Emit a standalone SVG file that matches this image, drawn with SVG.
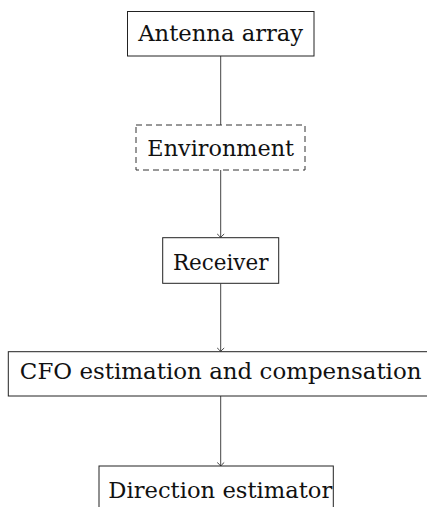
<svg xmlns="http://www.w3.org/2000/svg" width="427" height="507" viewBox="0 0 427 507">
<style>
.box{fill:#fff;stroke:#222;stroke-width:1}
.dash{fill:#fff;stroke:#333;stroke-width:1;stroke-dasharray:6,4}
.lbl{font-family:'DejaVu Serif','Liberation Serif',serif;font-size:22px;fill:#111;text-anchor:middle}
.edge{stroke:#444;stroke-width:1;fill:none}
</style>
<defs>
<marker id="tip" markerWidth="10" markerHeight="10" refX="5" refY="5" orient="auto" markerUnits="userSpaceOnUse">
<path d="M1.5,1.5 Q3.5,4 5,5 Q3.5,6 1.5,8.5" fill="none" stroke="#333" stroke-width="0.9"/>
</marker>
</defs>
<rect width="427" height="507" fill="#fff"/>
<g id="connectors">
<line class="edge" x1="220.7" y1="56" x2="220.7" y2="125"/>
<line class="edge" x1="220.7" y1="170" x2="220.7" y2="237.5" marker-end="url(#tip)"/>
<line class="edge" x1="220.7" y1="283.5" x2="220.7" y2="351.5" marker-end="url(#tip)"/>
<line class="edge" x1="220.7" y1="396" x2="220.7" y2="466" marker-end="url(#tip)"/>
</g>
<g id="antenna">
<rect class="box" x="127.5" y="11.5" width="186.5" height="44.5"/>
<text class="lbl" x="220.7" y="40.7" textLength="165" lengthAdjust="spacingAndGlyphs">Antenna array</text>
</g>
<g id="environment">
<rect class="dash" x="136" y="125" width="169" height="45"/>
<text class="lbl" x="220.7" y="156" textLength="146.7" lengthAdjust="spacingAndGlyphs">Environment</text>
</g>
<g id="receiver">
<rect class="box" x="162.7" y="237.7" width="116" height="45.6"/>
<text class="lbl" x="220.7" y="270" textLength="95.6" lengthAdjust="spacingAndGlyphs">Receiver</text>
</g>
<g id="cfo">
<rect class="box" x="8.3" y="351.7" width="425" height="44.3"/>
<text class="lbl" x="220.7" y="379" textLength="401.7" lengthAdjust="spacingAndGlyphs">CFO estimation and compensation</text>
</g>
<g id="direction">
<rect class="box" x="99" y="466" width="234.3" height="50"/>
<text class="lbl" x="220.3" y="498" textLength="224" lengthAdjust="spacingAndGlyphs">Direction estimator</text>
</g>
</svg>
